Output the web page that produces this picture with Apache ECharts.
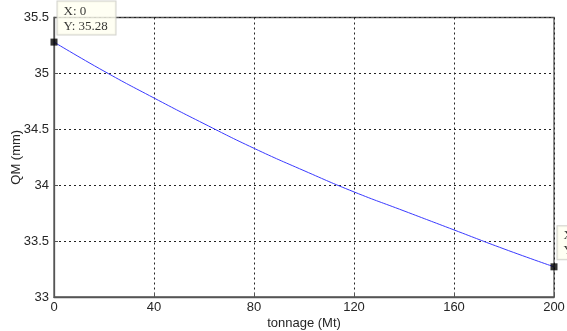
<!DOCTYPE html>
<html>
<head>
<meta charset="utf-8">
<script src="https://cdn.jsdelivr.net/npm/echarts@6/dist/echarts.min.js"></script>
<style>
  html, body { margin: 0; padding: 0; background: #fff; }
  #chart { width: 567px; height: 331px; }
</style>
</head>
<body>
<div id="chart"></div>
<script>
// tonnage (Mt) on x, QM (mm) on y
const tonnage = [0, 20, 40, 60, 80, 100, 120, 140, 160, 180, 200];
const qm = [35.28, 35.02, 34.78, 34.55, 34.33, 34.13, 33.94, 33.77, 33.60, 33.43, 33.27];
// data tips shown on the plot
const tipX = [0, 200];
const tipY = [35.28, 33.27];

const chart = echarts.init(document.getElementById('chart'));

const axisFont = { fontFamily: 'Liberation Sans', fontSize: 13, color: '#262626' };

chart.setOption({
  backgroundColor: '#fff',
  animation: false,
  grid: {
    left: 54, right: 13, top: 17.5, bottom: 34,
    outerBoundsMode: 'none', containLabel: false,
    show: true, borderColor: '#555', borderWidth: 1.3, backgroundColor: '#fff'
  },
  xAxis: {
    type: 'value', min: 0, max: 200, interval: 40,
    name: 'tonnage (Mt)', nameLocation: 'middle', nameGap: 20, nameMoveOverlap: false,
    nameTextStyle: axisFont,
    axisLine: { show: true, lineStyle: { color: '#555', width: 1.3 } },
    axisTick: { show: true, inside: true, length: 4, lineStyle: { color: '#555' } },
    axisLabel: Object.assign({ margin: 4 }, axisFont),
    splitLine: { show: true, lineStyle: { color: '#222', type: [2, 3], width: 1 } }
  },
  yAxis: {
    type: 'value', min: 33, max: 35.5, interval: 0.5,
    name: 'QM (mm)', nameLocation: 'middle', nameGap: 31, nameMoveOverlap: false,
    nameTextStyle: axisFont,
    axisLine: { show: true, lineStyle: { color: '#555', width: 1.3 } },
    axisTick: { show: true, inside: true, length: 4, lineStyle: { color: '#555' } },
    axisLabel: Object.assign({ margin: 5 }, axisFont),
    splitLine: { show: true, lineStyle: { color: '#222', type: [2, 3], width: 1 } }
  },
  series: [
    {
      type: 'line',
      data: tonnage.map((t, i) => [t, qm[i]]),
      smooth: true,
      showSymbol: false,
      lineStyle: { color: '#3a3aff', width: 1 },
      clip: false
    },
    {
      type: 'scatter',
      data: tipX.map((t, i) => [t, tipY[i]]),
      symbol: 'rect',
      symbolSize: 7,
      itemStyle: { color: '#000' },
      z: 5,
      label: {
        show: true,
        position: [7, -37],
        align: 'left',
        verticalAlign: 'top',
        formatter: p => 'X: ' + p.value[0] + '\nY: ' + p.value[1].toFixed(2),
        fontFamily: 'Liberation Serif',
        fontSize: 13,
        lineHeight: 15,
        width: 47,
        color: '#000',
        backgroundColor: '#fffff0',
        borderColor: '#c8c8c0',
        borderWidth: 1,
        padding: [2, 5, 1, 6]
      }
    }
  ]
});
</script>
</body>
</html>
